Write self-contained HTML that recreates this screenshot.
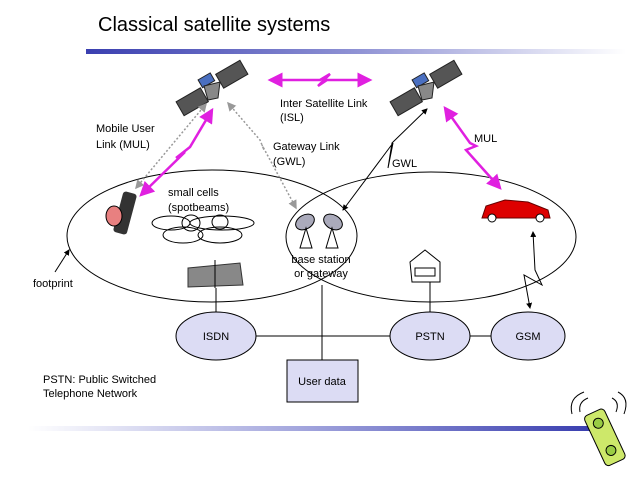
<!DOCTYPE html>
<html><head><meta charset="utf-8"><style>
body{margin:0;background:#fff;}
svg{display:block;font-family:"Liberation Sans",sans-serif;}
</style></head><body>
<svg width="638" height="479" viewBox="0 0 638 479" xmlns="http://www.w3.org/2000/svg">
<defs>
<linearGradient id="g1" x1="0" x2="1"><stop offset="0" stop-color="#3a3fb0"/><stop offset="0.5" stop-color="#8f92d4"/><stop offset="1" stop-color="#ffffff"/></linearGradient>
<linearGradient id="g2" x1="0" x2="1"><stop offset="0" stop-color="#ffffff"/><stop offset="0.5" stop-color="#a0a3dc"/><stop offset="1" stop-color="#3a3fb0"/></linearGradient>
<marker id="am" markerWidth="6" markerHeight="6" refX="5" refY="3" orient="auto-start-reverse"><path d="M0,0L6,3L0,6z" fill="#e020e0"/></marker>
<marker id="ak" markerWidth="6" markerHeight="6" refX="5" refY="3" orient="auto-start-reverse"><path d="M0,0L6,3L0,6z" fill="#000"/></marker>
<marker id="ag" markerWidth="6" markerHeight="6" refX="5" refY="3" orient="auto-start-reverse"><path d="M0,0L6,3L0,6z" fill="#999"/></marker>
<g id="sat">
<rect x="-38" y="-6" width="28" height="16" fill="#555" stroke="#222" transform="rotate(-30)"/>
<rect x="10" y="-10" width="28" height="16" fill="#555" stroke="#222" transform="rotate(-30)"/>
<rect x="-8" y="-14" width="14" height="9" fill="#4a6fc0" stroke="#222" transform="rotate(-30)"/>
<path d="M-8,-2 L8,-6 L6,10 L-4,12z" fill="#888" stroke="#222"/>
</g>
</defs>
<text x="98" y="31" font-size="20" fill="#000">Classical satellite systems</text>
<rect x="86" y="49" width="540" height="5" fill="url(#g1)"/>
<rect x="28" y="426" width="562" height="5" fill="url(#g2)"/>

<use href="#sat" x="212" y="88"/>
<use href="#sat" x="426" y="88"/>

<ellipse cx="212" cy="236" rx="145" ry="66" fill="none" stroke="#000"/>
<ellipse cx="431" cy="237" rx="145" ry="65" fill="none" stroke="#000"/>

<g fill="none" stroke="#000">
<ellipse cx="171" cy="223" rx="19" ry="7"/>
<ellipse cx="222" cy="223" rx="32" ry="7"/>
<ellipse cx="183" cy="235" rx="20" ry="8"/>
<ellipse cx="220" cy="235" rx="22" ry="8"/>
<ellipse cx="191" cy="223" rx="9" ry="8"/>
<ellipse cx="220" cy="222" rx="8" ry="7"/>
</g>

<!-- ISL -->
<polyline points="270,80 320,80 330,74 318,86 327,80 370,80" fill="none" stroke="#e020e0" stroke-width="2.5" marker-start="url(#am)" marker-end="url(#am)"/>

<!-- left MUL magenta -->
<polyline points="212,110 190,147 176,158 185,152 141,195" fill="none" stroke="#e020e0" stroke-width="2.5" marker-start="url(#am)" marker-end="url(#am)"/>
<!-- grey dotted -->
<line x1="206" y1="104" x2="136" y2="188" stroke="#999" stroke-width="1.5" stroke-dasharray="2,2" marker-start="url(#ag)" marker-end="url(#ag)"/>
<polyline points="228,103 260,140 264,150 262,145 296,208" fill="none" stroke="#999" stroke-width="1.5" stroke-dasharray="2,2" marker-start="url(#ag)" marker-end="url(#ag)"/>

<!-- right GWL -->
<polyline points="427,109 392,143 388,168 393,143 343,210" fill="none" stroke="#000" marker-start="url(#ak)" marker-end="url(#ak)"/>
<!-- right MUL -->
<polyline points="445,108 470,143 476,146 466,150 500,188" fill="none" stroke="#e020e0" stroke-width="2.5" marker-start="url(#am)" marker-end="url(#am)"/>
<!-- GSM link -->
<polyline points="533,232 535,270 542,285 524,275 530,308" fill="none" stroke="#000" marker-start="url(#ak)" marker-end="url(#ak)"/>
<line x1="55" y1="272" x2="69" y2="250" stroke="#000" marker-end="url(#ak)"/>

<!-- phone -->
<rect x="118" y="192" width="14" height="42" rx="3" fill="#333" transform="rotate(15 125 213)"/>
<ellipse cx="114" cy="216" rx="8" ry="10" fill="#e88080" stroke="#000"/>
<!-- base station -->
<g fill="#aab" stroke="#000">
<ellipse cx="305" cy="222" rx="10" ry="7" transform="rotate(-30 305 222)"/>
<ellipse cx="333" cy="222" rx="10" ry="7" transform="rotate(30 333 222)"/>
<path d="M300,248 L306,228 L312,248z M326,248 L332,228 L338,248z" fill="none"/>
</g>
<!-- car -->
<path d="M482,218 L486,206 L505,200 L528,202 L548,210 L550,218z" fill="#d00" stroke="#600"/>
<circle cx="492" cy="218" r="4" fill="#fff" stroke="#000"/><circle cx="540" cy="218" r="4" fill="#fff" stroke="#000"/>
<!-- building -->
<path d="M188,268 L240,263 L243,285 L188,287z" fill="#888" stroke="#333"/>
<line x1="215" y1="260" x2="215" y2="288" stroke="#000"/>
<!-- house -->
<path d="M410,262 L425,250 L440,262 L440,282 L412,282z" fill="#fff" stroke="#000"/>
<rect x="415" y="268" width="20" height="8" fill="none" stroke="#000"/>

<g stroke="#000" fill="none">
<line x1="216" y1="288" x2="216" y2="312"/>
<line x1="430" y1="282" x2="430" y2="312"/>
<line x1="253" y1="336" x2="390" y2="336"/>
<line x1="470" y1="336" x2="491" y2="336"/>
<line x1="322" y1="285" x2="322" y2="360"/>
</g>
<g fill="#dcdcf4" stroke="#000">
<ellipse cx="216" cy="336" rx="40" ry="24"/>
<ellipse cx="430" cy="336" rx="40" ry="24"/>
<ellipse cx="528" cy="336" rx="37" ry="24"/>
<rect x="287" y="360" width="71" height="42"/>
</g>
<g font-size="11" fill="#000">
<text x="216" y="340" text-anchor="middle">ISDN</text>
<text x="430" y="340" text-anchor="middle">PSTN</text>
<text x="528" y="340" text-anchor="middle">GSM</text>
<text x="322" y="385" text-anchor="middle">User data</text>
<text x="280" y="107">Inter Satellite Link</text>
<text x="280" y="121">(ISL)</text>
<text x="96" y="132">Mobile User</text>
<text x="96" y="148">Link (MUL)</text>
<text x="273" y="150">Gateway Link</text>
<text x="273" y="165">(GWL)</text>
<text x="474" y="142">MUL</text>
<text x="392" y="167">GWL</text>
<text x="168" y="196">small cells</text>
<text x="168" y="211">(spotbeams)</text>
<text x="321" y="263" text-anchor="middle">base station</text>
<text x="321" y="277" text-anchor="middle">or gateway</text>
<text x="33" y="287">footprint</text>
<text x="43" y="383">PSTN: Public Switched</text>
<text x="43" y="397">Telephone Network</text>
</g>
<g transform="rotate(-25 605 440)">
<rect x="595" y="410" width="22" height="55" rx="4" fill="#cde86a" stroke="#000"/>
<circle cx="606" cy="422" r="5" fill="#9c4" stroke="#000"/>
<circle cx="606" cy="452" r="5" fill="#9c4" stroke="#000"/>
</g>
<path d="M580,412 Q578,402 588,398 M572,414 Q568,398 584,392 M612,398 Q620,402 616,412 M618,392 Q630,398 624,414" fill="none" stroke="#000"/>
</svg>
</body></html>
